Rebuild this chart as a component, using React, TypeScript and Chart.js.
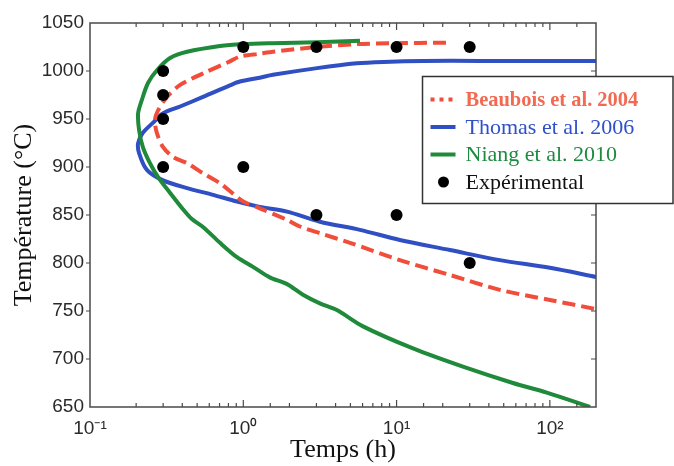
import React, { useEffect, useRef } from "react";
import { Chart, registerables } from "chart.js";

Chart.register(...registerables);

// ---- Data ----
const beauboisTime = [21, 9.5, 5.5, 3.03, 1.56, 1.28, 0.95, 0.818, 0.546, 0.387, 0.318, 0.278, 0.265, 0.273, 0.299, 0.348, 0.43, 0.546, 0.705, 0.86, 1.0, 1.28, 1.93, 2.34, 3.16, 4.97, 10.5, 22.3, 47.2, 100, 200];
const beauboisTemp = [1029.5, 1029, 1028, 1025, 1020, 1018, 1015, 1010, 997.5, 985.5, 973, 959, 949, 935.5, 921, 910.5, 904, 893.5, 883, 872, 864, 857, 845, 838, 831, 821, 803, 787.5, 772, 761.5, 752];

const thomasTime = [200, 35, 14.9, 8.2, 5.5, 3.03, 1.56, 1.28, 0.95, 0.818, 0.546, 0.387, 0.3, 0.257, 0.221, 0.206, 0.209, 0.235, 0.3, 0.43, 0.635, 0.91, 1.28, 1.93, 3.16, 5.77, 10.5, 22.3, 47.2, 100, 200];
const thomasTemp = [1010.5, 1010.5, 1010.5, 1009.5, 1008, 1003, 996, 993, 989, 985, 973, 963, 956, 946, 935.5, 925, 914.5, 897, 886, 878, 871, 864, 858.5, 853.5, 843, 834.5, 824, 813.5, 803, 795, 785.5];

const niangTime = [5.77, 3.03, 1.56, 1.0, 0.705, 0.43, 0.333, 0.274, 0.239, 0.218, 0.206, 0.209, 0.221, 0.246, 0.278, 0.333, 0.404, 0.46, 0.546, 0.705, 0.91, 1.157, 1.49, 1.93, 2.45, 3.16, 4.08, 6.04, 12.8, 27.1, 57.4, 95.6, 183];
const niangTemp = [1031.5, 1030, 1029, 1028, 1026, 1020, 1013.5, 1001, 987.5, 970, 956, 938.5, 921, 904, 889.5, 873, 856, 846, 837.5, 821, 806, 796, 785, 778, 767, 758, 751, 734, 711, 692, 675, 665, 650];

const expTime = [0.3, 0.3, 0.3, 0.3, 1, 3, 10, 30, 1, 3, 10, 30];
const expTemp = [1000, 975, 950, 900, 1025, 1025, 1025, 1025, 900, 850, 850, 800];

const seriesLabels = ["Beaubois et al. 2004", "Thomas et al. 2006", "Niang et al. 2010", "Expérimental"];
const yTicks = [650, 700, 750, 800, 850, 900, 950, 1000, 1050];
const xDecades = [0.1, 1, 10, 100];

const RED = "#f04e3a";
const BLUE = "#2f4fc2";
const GREEN = "#1f8a3a";

const SUP: Record<string, string> = { "-": "⁻", "0": "⁰", "1": "¹", "2": "²", "3": "³" };
const supStr = (n: number) => String(n).split("").map((c) => SUP[c] || c).join("");

const zip = (xs: number[], ys: number[]) => xs.map((x, i) => ({ x, y: ys[i] }));

const framePlugin = {
  id: "frameTicks",
  afterDraw(chart: any) {
    const { ctx, chartArea } = chart;
    const xs = chart.scales.x;
    const ys = chart.scales.y;
    const { left, right, top, bottom } = chartArea;
    ctx.save();
    ctx.strokeStyle = "#4a4a4a";
    ctx.lineWidth = 1.5;
    ctx.strokeRect(left, top, right - left, bottom - top);
    ctx.lineWidth = 1.2;
    ctx.beginPath();
    xs.ticks.forEach((t: any) => {
      const v = t.value;
      const l = Math.log10(v);
      const major = Math.abs(l - Math.round(l)) < 1e-6;
      const px = xs.getPixelForValue(v);
      if (px <= left + 0.5 || px >= right - 0.5) return;
      const len = major ? 7 : 4;
      ctx.moveTo(px, bottom);
      ctx.lineTo(px, bottom - len);
      ctx.moveTo(px, top);
      ctx.lineTo(px, top + len);
    });
    yTicks.forEach((v) => {
      const py = ys.getPixelForValue(v);
      if (py <= top + 0.5 || py >= bottom - 0.5) return;
      ctx.moveTo(left, py);
      ctx.lineTo(left - 4, py);
      ctx.moveTo(right, py);
      ctx.lineTo(right - 5, py);
    });
    ctx.stroke();

    // Legend box
    const bx = left + 332.5;
    const by = top + 53.5;
    const bw = chart.width - bx - 1;
    const bh = 127;
    ctx.fillStyle = "#ffffff";
    ctx.fillRect(bx, by, bw, bh);
    ctx.strokeStyle = "#333333";
    ctx.lineWidth = 1.5;
    ctx.strokeRect(bx, by, bw, bh);

    const rowY0 = by + 23;
    const rowH = 27.5;
    const symX = bx + 8;
    const textX = bx + 43;
    ctx.textBaseline = "middle";
    ctx.textAlign = "left";
    chart.data.datasets.forEach((ds: any, i: number) => {
      const cy = rowY0 + i * rowH;
      if (i === 0) {
        ctx.fillStyle = ds.borderColor;
        for (let k = 0; k < 3; k++) ctx.fillRect(symX + k * 9, cy - 2, 4, 4);
      } else if (i < 3) {
        ctx.strokeStyle = ds.borderColor;
        ctx.lineWidth = 4;
        ctx.setLineDash([]);
        ctx.beginPath();
        ctx.moveTo(symX, cy);
        ctx.lineTo(symX + 25, cy);
        ctx.stroke();
      } else {
        ctx.fillStyle = "#000";
        ctx.beginPath();
        ctx.arc(symX + 13, cy, 5.5, 0, Math.PI * 2);
        ctx.fill();
      }
      ctx.font = (i === 0 ? "bold " : "") + '22px "Liberation Serif"';
      ctx.fillStyle = ds.legendTextColor || "#000";
      const txt = ds.label;
      if (i === 0) {
        // slightly condensed to match the reference's width
        ctx.save();
        ctx.translate(textX, cy + 1);
        ctx.scale(0.93, 1);
        ctx.fillText(txt, 0, 0);
        ctx.restore();
      } else {
        ctx.fillText(txt, textX, cy + 1);
      }
    });
    ctx.restore();
  },
};

export default function App() {
  const ref = useRef<HTMLCanvasElement | null>(null);
  useEffect(() => {
    if (!ref.current) return;
    const chart = new Chart(ref.current, {
      type: "scatter",
      data: {
        datasets: [
          {
            label: seriesLabels[0],
            data: zip(beauboisTime, beauboisTemp),
            showLine: true,
            borderColor: RED,
            borderWidth: 4,
            borderDash: [13, 6],
            pointRadius: 0,
            tension: 0.3,
            fill: false,
            order: 2,
            legendTextColor: "#f26a52",
          } as any,
          {
            label: seriesLabels[1],
            data: zip(thomasTime, thomasTemp),
            showLine: true,
            borderColor: BLUE,
            borderWidth: 4,
            pointRadius: 0,
            tension: 0.3,
            fill: false,
            order: 3,
            legendTextColor: "#2f50c8",
          } as any,
          {
            label: seriesLabels[2],
            data: zip(niangTime, niangTemp),
            showLine: true,
            borderColor: GREEN,
            borderWidth: 4,
            pointRadius: 0,
            tension: 0.3,
            fill: false,
            order: 1,
            legendTextColor: "#1e8a40",
          } as any,
          {
            label: seriesLabels[3],
            data: zip(expTime, expTemp),
            showLine: false,
            backgroundColor: "#000000",
            borderColor: "#000000",
            pointRadius: 6,
            pointBorderWidth: 0,
            order: 0,
            legendTextColor: "#111111",
          } as any,
        ],
      },
      options: {
        animation: false,
        responsive: false,
        maintainAspectRatio: false,
        layout: { padding: { left: 0, top: 23, right: 78, bottom: 0 } },
        plugins: { legend: { display: false }, tooltip: { enabled: false } },
        scales: {
          x: {
            type: "logarithmic",
            min: 0.1,
            max: 200,
            grid: { display: false, drawTicks: false },
            border: { display: false },
            afterFit: (s: any) => {
              s.height = 59;
            },
            ticks: {
              autoSkip: false,
              maxRotation: 0,
              padding: 10,
              color: "#2a2a2a",
              font: { family: '"Liberation Sans"', size: 19 },
              callback: (v: any) => {
                const n = Number(v);
                const hit = xDecades.find((d) => Math.abs(d - n) / d < 1e-6);
                if (hit === undefined) return "";
                return "10" + supStr(Math.round(Math.log10(hit)));
              },
            },
            title: {
              display: true,
              text: "Temps (h)",
              color: "#111",
              font: { family: '"Liberation Serif"', size: 26 },
              padding: { top: -1, bottom: 0 },
            },
          },
          y: {
            type: "linear",
            min: 650,
            max: 1050,
            grid: { display: false, drawTicks: false },
            border: { display: false },
            afterFit: (s: any) => {
              s.width = 90;
            },
            afterBuildTicks: (s: any) => {
              s.ticks = yTicks.map((v) => ({ value: v }));
            },
            ticks: {
              padding: 6,
              color: "#2a2a2a",
              font: { family: '"Liberation Sans"', size: 19 },
              callback: (v: any) => String(v),
            },
            title: {
              display: true,
              text: "Température (°C)",
              color: "#111",
              font: { family: '"Liberation Serif"', size: 26 },
              padding: { top: 9, bottom: 0 },
            },
          },
        },
      },
      plugins: [framePlugin],
    });
    return () => chart.destroy();
  }, []);
  return (
    <div style={{ position: "fixed", left: 0, top: 0, width: 674, height: 466, background: "#fff" }}>
      <canvas ref={ref} width={674} height={466} style={{ display: "block" }} />
    </div>
  );
}
